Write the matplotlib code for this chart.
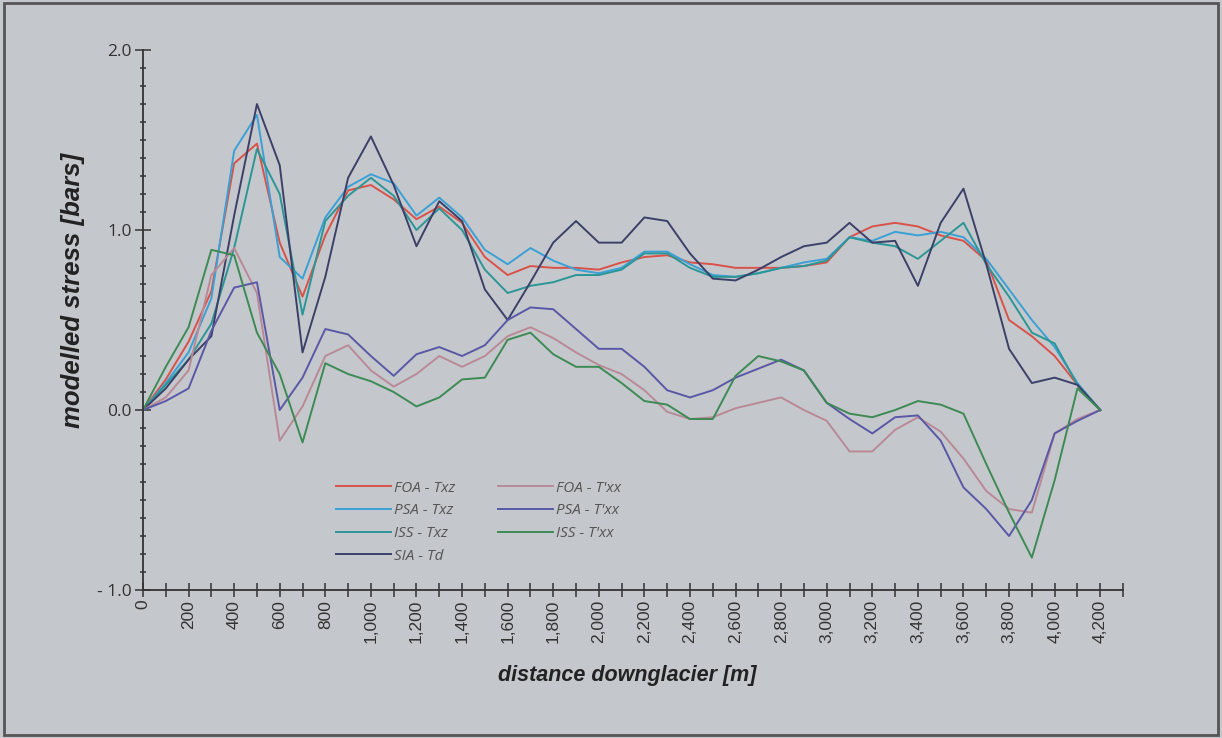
import matplotlib.pyplot as plt
from matplotlib.ticker import MultipleLocator, FixedLocator, FuncFormatter
from matplotlib.patches import Rectangle

# distance downglacier, every 100 m
distance = list(range(0, 4201, 100))

foa_txz = [0.0, 0.17, 0.38, 0.66, 1.37, 1.48, 0.93, 0.63, 0.97, 1.22, 1.25, 1.17, 1.06, 1.13,
           1.04, 0.85, 0.75, 0.80, 0.79, 0.79, 0.78, 0.82, 0.85, 0.86, 0.82, 0.81, 0.79, 0.79,
           0.79, 0.80, 0.82, 0.96, 1.02, 1.04, 1.02, 0.97, 0.94, 0.83, 0.50, 0.41, 0.30, 0.14, 0.0]
psa_txz = [0.0, 0.15, 0.32, 0.62, 1.44, 1.64, 0.85, 0.73, 1.07, 1.24, 1.31, 1.26, 1.08, 1.18,
           1.07, 0.89, 0.81, 0.90, 0.83, 0.78, 0.76, 0.79, 0.88, 0.88, 0.81, 0.75, 0.74, 0.76,
           0.79, 0.82, 0.84, 0.96, 0.94, 0.99, 0.97, 0.99, 0.96, 0.84, 0.67, 0.50, 0.35, 0.15, 0.0]
iss_txz = [0.0, 0.14, 0.28, 0.48, 0.90, 1.45, 1.20, 0.53, 1.05, 1.19, 1.29, 1.19, 1.00, 1.12,
           1.00, 0.78, 0.65, 0.69, 0.71, 0.75, 0.75, 0.78, 0.87, 0.87, 0.79, 0.74, 0.74, 0.76,
           0.79, 0.80, 0.83, 0.96, 0.93, 0.91, 0.84, 0.94, 1.04, 0.81, 0.63, 0.43, 0.37, 0.14, 0.0]
sia_td = [0.0, 0.12, 0.28, 0.41, 1.08, 1.70, 1.36, 0.32, 0.74, 1.29, 1.52, 1.25, 0.91, 1.16,
          1.05, 0.67, 0.50, 0.71, 0.93, 1.05, 0.93, 0.93, 1.07, 1.05, 0.87, 0.73, 0.72, 0.78,
          0.85, 0.91, 0.93, 1.04, 0.93, 0.94, 0.69, 1.04, 1.23, 0.81, 0.34, 0.15, 0.18, 0.14, 0.0]
foa_txx = [0.0, 0.07, 0.22, 0.75, 0.90, 0.65, -0.17, 0.02, 0.30, 0.36, 0.22, 0.13, 0.20, 0.30,
           0.24, 0.30, 0.41, 0.46, 0.40, 0.32, 0.25, 0.20, 0.11, -0.01, -0.05, -0.04, 0.01, 0.04,
           0.07, 0.0, -0.06, -0.23, -0.23, -0.11, -0.04, -0.12, -0.27, -0.45, -0.55, -0.57, -0.13, -0.05, 0.0]
psa_txx = [0.0, 0.05, 0.12, 0.44, 0.68, 0.71, 0.0, 0.18, 0.45, 0.42, 0.30, 0.19, 0.31, 0.35,
           0.30, 0.36, 0.50, 0.57, 0.56, 0.45, 0.34, 0.34, 0.24, 0.11, 0.07, 0.11, 0.18, 0.23,
           0.28, 0.22, 0.04, -0.05, -0.13, -0.04, -0.03, -0.17, -0.43, -0.55, -0.70, -0.50, -0.13, -0.06, 0.0]
iss_txx = [0.0, 0.24, 0.46, 0.89, 0.86, 0.43, 0.20, -0.18, 0.26, 0.20, 0.16, 0.10, 0.02, 0.07,
           0.17, 0.18, 0.39, 0.43, 0.31, 0.24, 0.24, 0.15, 0.05, 0.03, -0.05, -0.05, 0.19, 0.30,
           0.27, 0.22, 0.04, -0.02, -0.04, 0.0, 0.05, 0.03, -0.02, -0.30, -0.57, -0.82, -0.39, 0.12, 0.0]

bg = "#c4c8cc"
fig = plt.figure(figsize=(12.22, 7.38), dpi=100, facecolor=bg)
ax = fig.add_axes([0.117, 0.2005, 0.802, 0.7317])
ax.set_facecolor(bg)

lw = 1.4
l1, = ax.plot(distance, foa_txz, color="#d9524a", lw=lw)
l2, = ax.plot(distance, psa_txz, color="#3aa0d6", lw=lw)
l3, = ax.plot(distance, iss_txz, color="#2c9696", lw=lw)
l4, = ax.plot(distance, sia_td, color="#3c4068", lw=lw)
l5, = ax.plot(distance, foa_txx, color="#b98996", lw=lw)
l6, = ax.plot(distance, psa_txx, color="#5a58a6", lw=lw)
l7, = ax.plot(distance, iss_txx, color="#3d8a55", lw=lw)

ax.set_xlim(0, 4300)
ax.set_ylim(-1.0, 2.0)

for side in ["top", "right"]:
    ax.spines[side].set_visible(False)
for side in ["left", "bottom"]:
    ax.spines[side].set_color("#333333")
    ax.spines[side].set_linewidth(1.3)

ax.xaxis.set_major_locator(FixedLocator(range(0, 4201, 200)))
ax.xaxis.set_minor_locator(FixedLocator(range(0, 4301, 100)))
ax.xaxis.set_major_formatter(FuncFormatter(lambda v, p: f"{int(v):,}"))
ax.yaxis.set_major_locator(MultipleLocator(1.0))
ax.yaxis.set_minor_locator(MultipleLocator(0.1))
ax.yaxis.set_major_formatter(FuncFormatter(lambda v, p: f"{v:.1f}" if v >= 0 else f"- {abs(v):.1f}"))

ax.tick_params(axis="x", which="both", direction="inout", length=10, width=1.1,
               colors="#333333", labelsize=12.5, labelrotation=90, pad=2)
ax.tick_params(axis="y", which="major", direction="inout", length=12, width=1.1,
               colors="#333333", labelsize=12.5, pad=2)
ax.tick_params(axis="y", which="minor", direction="inout", length=5, width=1.1, colors="#333333")
for t in ax.get_xticklabels():
    t.set_family("Liberation Sans")
for t in ax.get_yticklabels():
    t.set_family("Open Sans")

ax.set_ylabel("modelled stress [bars]", fontsize=18.5, fontweight="bold", fontstyle="italic",
              family="Liberation Sans", color="#222222")
ax.yaxis.set_label_coords(-0.059, 0.554)
ax.set_xlabel("distance downglacier [m]", fontsize=15.5, fontweight="bold", fontstyle="italic",
              family="Liberation Sans", color="#222222")
ax.xaxis.set_label_coords(0.494, -0.139)

handles = [l1, l2, l3, l4, l5, l6, l7]
labels = ["FOA - Txz", "PSA - Txz", "ISS - Txz", "SIA - Td",
          "FOA - T'xx", "PSA - T'xx", "ISS - T'xx"]
leg = ax.legend(handles, labels, ncol=2, loc="upper left", bbox_to_anchor=(0.183, 0.228),
                frameon=False, handlelength=3.6, handletextpad=0.2, columnspacing=2.8,
                labelspacing=0.5, prop={"family": "Open Sans", "style": "italic", "size": 11})
for t in leg.get_texts():
    t.set_color("#555555")

# outer border of the figure
fig.patches.append(Rectangle((0.003, 0.004), 0.994, 0.992, transform=fig.transFigure,
                             fill=False, edgecolor="#555555", linewidth=2))

fig.savefig("out.png", dpi=100, facecolor=bg)
